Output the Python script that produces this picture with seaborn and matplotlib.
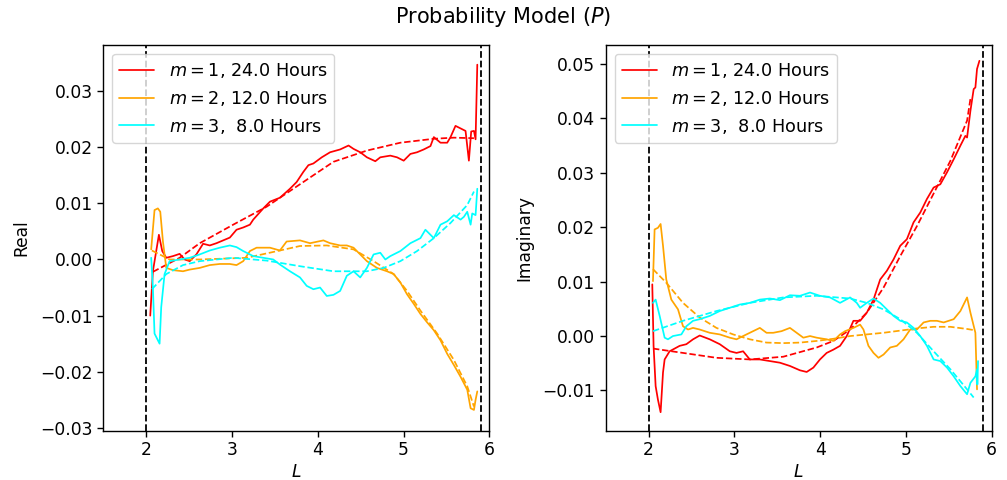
import matplotlib
matplotlib.use("Agg")
import matplotlib.pyplot as plt
import seaborn as sns
import numpy as np

# ---------------- data: Real part (left) ----------------
re_m1_L = [2.047, 2.078, 2.148, 2.187, 2.234, 2.312, 2.390, 2.448, 2.507, 2.585, 2.663, 2.741, 2.819,
           2.897, 2.975, 3.053, 3.131, 3.209, 3.248, 3.365, 3.443, 3.559, 3.676, 3.754, 3.832, 3.891,
           3.949, 4.047, 4.144, 4.261, 4.359, 4.417, 4.495, 4.573, 4.671, 4.729, 4.846, 4.924, 5.002,
           5.080, 5.158, 5.236, 5.314, 5.353, 5.431, 5.509, 5.548, 5.606, 5.684, 5.723, 5.762, 5.789,
           5.821, 5.840, 5.860]
re_m1_V = [-0.0100, -0.0021, 0.0044, 0.0015, 0.0003, 0.0006, 0.0010, 0.0000, -0.0003, 0.0009, 0.0028,
           0.0025, 0.0029, 0.0034, 0.0039, 0.0053, 0.0057, 0.0062, 0.0071, 0.0091, 0.0103, 0.0110,
           0.0126, 0.0138, 0.0156, 0.0168, 0.0171, 0.0182, 0.0191, 0.0196, 0.0203, 0.0197, 0.0191,
           0.0182, 0.0175, 0.0182, 0.0185, 0.0182, 0.0176, 0.0188, 0.0191, 0.0196, 0.0202, 0.0218,
           0.0208, 0.0208, 0.0218, 0.0238, 0.0232, 0.0229, 0.0176, 0.0228, 0.0229, 0.0214, 0.0347]
re_m1_fit_L = [2.078, 2.390, 2.624, 3.014, 3.404, 3.715, 4.183, 4.573, 4.963, 5.353, 5.587, 5.821]
re_m1_fit_V = [-0.0022, 0.0003, 0.0029, 0.0062, 0.0094, 0.0126, 0.0174, 0.0194, 0.0208, 0.0215,
               0.0217, 0.0216]

re_m2_L = [2.058, 2.097, 2.136, 2.164, 2.195, 2.234, 2.312, 2.429, 2.507, 2.624, 2.741, 2.858, 2.975,
           3.053, 3.131, 3.209, 3.287, 3.443, 3.559, 3.637, 3.793, 3.910, 4.066, 4.144, 4.261, 4.339,
           4.417, 4.495, 4.573, 4.690, 4.807, 4.885, 4.963, 5.041, 5.119, 5.197, 5.275, 5.353, 5.431,
           5.509, 5.587, 5.665, 5.743, 5.782, 5.821, 5.840, 5.860]
re_m2_V = [0.0018, 0.0088, 0.0091, 0.0085, 0.0032, -0.0015, -0.0019, -0.0021, -0.0018, -0.0015,
           -0.0010, -0.0008, -0.0008, -0.0010, -0.0003, 0.0015, 0.0021, 0.0021, 0.0016, 0.0032, 0.0034,
           0.0029, 0.0034, 0.0029, 0.0025, 0.0025, 0.0021, 0.0009, -0.0003, -0.0015, -0.0021, -0.0026,
           -0.0041, -0.0062, -0.0079, -0.0097, -0.0112, -0.0126, -0.0144, -0.0168, -0.0188, -0.0209,
           -0.0232, -0.0265, -0.0268, -0.0250, -0.0235]
re_m2_fit_L = [2.066, 2.273, 2.624, 3.170, 3.559, 3.793, 4.105, 4.417, 4.651, 4.885, 5.041, 5.197,
               5.392, 5.587, 5.743, 5.821]
re_m2_fit_V = [0.0016, 0.0000, 0.0000, 0.0003, 0.0016, 0.0024, 0.0025, 0.0018, -0.0003, -0.0026,
               -0.0056, -0.0091, -0.0132, -0.0179, -0.0226, -0.0262]

re_m3_L = [2.058, 2.078, 2.097, 2.156, 2.175, 2.214, 2.273, 2.390, 2.507, 2.624, 2.741, 2.858, 2.975,
           3.053, 3.131, 3.248, 3.365, 3.481, 3.559, 3.676, 3.793, 3.871, 3.949, 4.027, 4.105, 4.183,
           4.261, 4.339, 4.417, 4.495, 4.573, 4.651, 4.729, 4.788, 4.846, 4.963, 5.080, 5.197, 5.255,
           5.314, 5.353, 5.431, 5.509, 5.587, 5.665, 5.704, 5.743, 5.782, 5.801, 5.840, 5.860]
re_m3_V = [0.0003, -0.0050, -0.0132, -0.0150, -0.0085, -0.0026, -0.0003, 0.0000, 0.0003, 0.0009,
           0.0016, 0.0021, 0.0025, 0.0022, 0.0015, 0.0006, 0.0003, 0.0000, -0.0009, -0.0021, -0.0032,
           -0.0047, -0.0053, -0.0050, -0.0065, -0.0063, -0.0056, -0.0029, -0.0021, -0.0032, -0.0015,
           0.0009, 0.0012, 0.0000, 0.0006, 0.0015, 0.0029, 0.0038, 0.0053, 0.0044, 0.0038, 0.0062,
           0.0068, 0.0079, 0.0071, 0.0076, 0.0085, 0.0062, 0.0082, 0.0079, 0.0126]
re_m3_fit_L = [2.066, 2.234, 2.429, 2.624, 3.014, 3.404, 3.793, 4.183, 4.573, 4.768, 4.963, 5.158,
               5.353, 5.548, 5.743, 5.821]
re_m3_fit_V = [-0.0053, -0.0026, -0.0010, -0.0003, 0.0003, -0.0002, -0.0012, -0.0021, -0.0021,
               -0.0015, -0.0003, 0.0015, 0.0038, 0.0065, 0.0097, 0.0121]

# ---------------- data: Imaginary part (right) ----------------
im_m1_L = [2.043, 2.058, 2.082, 2.109, 2.140, 2.168, 2.187, 2.245, 2.362, 2.440, 2.518, 2.596, 2.713,
           2.830, 2.947, 3.025, 3.102, 3.180, 3.297, 3.414, 3.531, 3.648, 3.765, 3.843, 3.921, 3.998,
           4.076, 4.154, 4.232, 4.310, 4.388, 4.466, 4.544, 4.622, 4.700, 4.778, 4.856, 4.934, 5.011,
           5.089, 5.167, 5.245, 5.323, 5.401, 5.479, 5.557, 5.635, 5.693, 5.713, 5.752, 5.790, 5.810,
           5.829, 5.857]
im_m1_V = [0.0095, -0.0018, -0.0092, -0.0117, -0.0140, -0.0067, -0.0043, -0.0028, -0.0018, -0.0015,
           -0.0006, 0.0001, -0.0006, -0.0015, -0.0028, -0.0031, -0.0028, -0.0043, -0.0043, -0.0046,
           -0.0049, -0.0055, -0.0063, -0.0066, -0.0058, -0.0043, -0.0031, -0.0025, -0.0018, 0.0000,
           0.0028, 0.0028, 0.0043, 0.0067, 0.0104, 0.0120, 0.0141, 0.0166, 0.0178, 0.0209, 0.0227,
           0.0252, 0.0273, 0.0279, 0.0301, 0.0325, 0.0350, 0.0368, 0.0365, 0.0414, 0.0454, 0.0457,
           0.0491, 0.0506]
im_m1_fit_L = [2.051, 2.401, 2.791, 3.180, 3.570, 3.960, 4.154, 4.349, 4.544, 4.739, 4.934, 5.128,
               5.323, 5.518, 5.713, 5.752]
im_m1_fit_V = [-0.0023, -0.0031, -0.0040, -0.0043, -0.0038, -0.0021, -0.0009, 0.0012, 0.0043, 0.0089,
               0.0147, 0.0202, 0.0262, 0.0322, 0.0396, 0.0436]

im_m2_L = [2.051, 2.070, 2.109, 2.140, 2.168, 2.206, 2.265, 2.343, 2.401, 2.460, 2.518, 2.596, 2.713,
           2.830, 2.947, 3.025, 3.102, 3.180, 3.297, 3.375, 3.453, 3.550, 3.648, 3.726, 3.804, 3.882,
           3.960, 4.076, 4.154, 4.232, 4.291, 4.388, 4.466, 4.505, 4.563, 4.622, 4.680, 4.739, 4.817,
           4.894, 4.972, 5.050, 5.128, 5.206, 5.284, 5.362, 5.440, 5.557, 5.635, 5.713, 5.752, 5.810,
           5.829]
im_m2_V = [0.0101, 0.0196, 0.0199, 0.0206, 0.0166, 0.0104, 0.0067, 0.0049, 0.0018, 0.0012, 0.0015,
           0.0012, 0.0006, 0.0003, -0.0003, -0.0006, 0.0000, 0.0006, 0.0015, 0.0006, 0.0006, 0.0009,
           0.0015, 0.0006, -0.0003, 0.0000, -0.0003, -0.0006, -0.0009, 0.0003, 0.0009, 0.0015, 0.0021,
           0.0012, -0.0018, -0.0031, -0.0040, -0.0034, -0.0021, -0.0018, -0.0006, 0.0012, 0.0012,
           0.0025, 0.0028, 0.0028, 0.0025, 0.0031, 0.0046, 0.0071, 0.0043, 0.0006, -0.0098]
im_m2_fit_L = [2.051, 2.206, 2.401, 2.596, 2.791, 2.986, 3.180, 3.375, 3.570, 3.765, 3.960, 4.154,
               4.349, 4.544, 4.739, 4.934, 5.128, 5.323, 5.518, 5.713, 5.790]
im_m2_fit_V = [0.0123, 0.0098, 0.0061, 0.0034, 0.0015, 0.0003, -0.0006, -0.0012, -0.0013, -0.0012,
               -0.0009, -0.0005, 0.0000, 0.0003, 0.0006, 0.0010, 0.0014, 0.0017, 0.0017, 0.0013, 0.0011]

im_m3_L = [2.051, 2.082, 2.129, 2.187, 2.226, 2.284, 2.382, 2.440, 2.518, 2.596, 2.713, 2.830, 2.947,
           3.064, 3.180, 3.297, 3.414, 3.531, 3.648, 3.765, 3.882, 3.998, 4.115, 4.232, 4.349, 4.427,
           4.466, 4.544, 4.622, 4.700, 4.778, 4.856, 4.934, 5.011, 5.089, 5.167, 5.245, 5.323, 5.401,
           5.479, 5.557, 5.635, 5.713, 5.752, 5.810, 5.829, 5.833, 5.841]
im_m3_V = [0.0061, 0.0067, 0.0037, -0.0003, -0.0006, 0.0000, 0.0003, 0.0018, 0.0028, 0.0031, 0.0037,
           0.0046, 0.0052, 0.0058, 0.0061, 0.0067, 0.0069, 0.0066, 0.0075, 0.0074, 0.0080, 0.0074,
           0.0071, 0.0061, 0.0071, 0.0061, 0.0052, 0.0061, 0.0069, 0.0061, 0.0049, 0.0037, 0.0028,
           0.0025, 0.0015, 0.0000, -0.0018, -0.0043, -0.0046, -0.0058, -0.0074, -0.0092, -0.0107,
           -0.0086, -0.0074, -0.0061, -0.0089, -0.0046]
im_m3_fit_L = [2.051, 2.401, 2.791, 3.180, 3.570, 3.960, 4.349, 4.544, 4.739, 4.934, 5.128, 5.323,
               5.518, 5.713, 5.790]
im_m3_fit_V = [0.0009, 0.0028, 0.0046, 0.0061, 0.0071, 0.0074, 0.0069, 0.0061, 0.0049, 0.0031, 0.0006,
               -0.0028, -0.0061, -0.0098, -0.0113]

labels = [r"$m = 1$, 24.0 Hours", r"$m = 2$, 12.0 Hours", r"$m = 3$,  8.0 Hours"]
colors = ["red", "orange", "cyan"]
boundaries = [2.0, 5.9]

panels = [
    dict(ylabel="Real", ylim=(-0.0305, 0.0382), yticks=[-0.03, -0.02, -0.01, 0.0, 0.01, 0.02, 0.03],
         series=[(re_m1_L, re_m1_V, re_m1_fit_L, re_m1_fit_V),
                 (re_m2_L, re_m2_V, re_m2_fit_L, re_m2_fit_V),
                 (re_m3_L, re_m3_V, re_m3_fit_L, re_m3_fit_V)]),
    dict(ylabel="Imaginary", ylim=(-0.0174, 0.0535), yticks=[-0.01, 0.0, 0.01, 0.02, 0.03, 0.04, 0.05],
         series=[(im_m1_L, im_m1_V, im_m1_fit_L, im_m1_fit_V),
                 (im_m2_L, im_m2_V, im_m2_fit_L, im_m2_fit_V),
                 (im_m3_L, im_m3_V, im_m3_fit_L, im_m3_fit_V)]),
]

sns.set_style("ticks")
plt.rcParams["font.family"] = ["DejaVu Sans"]
plt.rcParams["mathtext.fontset"] = "dejavusans"
for k in ["text.color", "axes.labelcolor", "xtick.color", "ytick.color", "axes.edgecolor"]:
    plt.rcParams[k] = "black"

fig = plt.figure(figsize=(10.07, 4.8), dpi=100)
positions = [[0.1026, 0.1027, 0.3833, 0.8035], [0.6015, 0.1027, 0.3833, 0.8035]]

FS = 12.3
for pos, p in zip(positions, panels):
    ax = fig.add_axes(pos)
    for b in boundaries:
        ax.axvline(b, color="black", linestyle="--", linewidth=1.3, zorder=1)
    for (xs, ys, fx, fy), c, lab in zip(p["series"], colors, labels):
        sns.lineplot(x=xs, y=ys, ax=ax, color=c, linewidth=1.25, label=lab,
                     estimator=None, sort=False, zorder=3)
        sns.lineplot(x=fx, y=fy, ax=ax, color=c, linewidth=1.25, linestyle="--",
                     estimator=None, sort=False, legend=False, zorder=3)
    ax.set_xlim(1.5, 6.0)
    ax.set_ylim(*p["ylim"])
    ax.set_xticks([2, 3, 4, 5, 6])
    ax.set_yticks(p["yticks"])
    ax.set_yticklabels([f"{t:.2f}".replace("-", "\u2212") for t in p["yticks"]])
    ax.tick_params(labelsize=FS, direction="out", length=4, width=1, colors="black")
    for s in ax.spines.values():
        s.set_visible(True)
        s.set_linewidth(1.0)
        s.set_color("black")
    ax.set_xlabel("$L$", fontsize=FS, labelpad=3)
    ax.set_ylabel(p["ylabel"], fontsize=FS, labelpad=7)
    ax.legend(loc="upper left", fontsize=12.7, frameon=True, framealpha=0.8,
              edgecolor="#cccccc", fancybox=True, handlelength=2.0)

fig.suptitle("Probability Model ($P$)", fontsize=15, y=0.99)
fig.savefig("out.png", dpi=100, facecolor="white")
